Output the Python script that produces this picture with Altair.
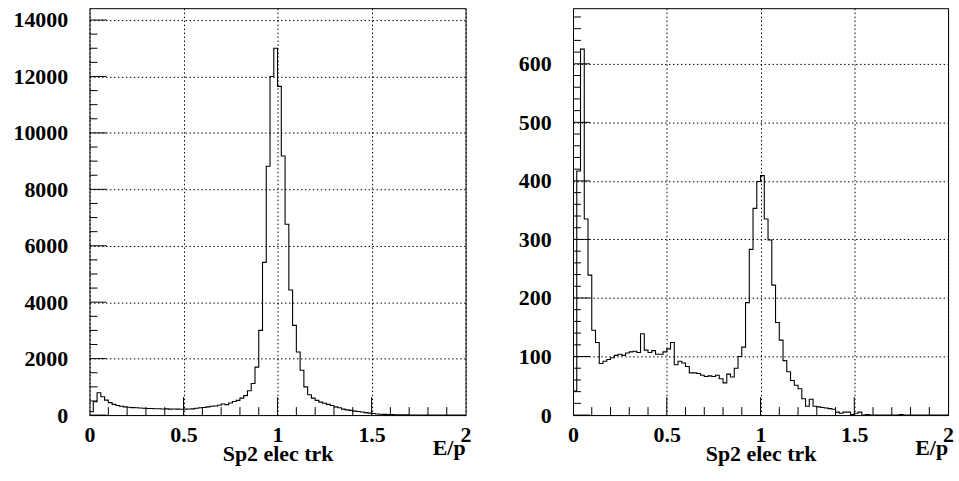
import altair as alt
import pandas as pd

BIN_WIDTH = 0.02
X_MIN, X_MAX = 0.0, 2.0

# Left panel: bin contents (100 bins of 0.02 in E/p)
left_counts = [
    120, 470, 790, 650, 530, 440, 380, 340, 310, 290,
    275, 265, 260, 250, 240, 235, 230, 225, 225, 215,
    220, 210, 215, 210, 205, 210, 215, 220, 240, 260,
    270, 290, 310, 320, 350, 390, 370, 430, 480, 520,
    600, 690, 860, 1120, 1700, 3000, 5410, 8820, 12000, 13000,
    11650, 9180, 6760, 4435, 3180, 2235, 1590, 1000, 720, 600,
    520, 460, 420, 380, 340, 290, 260, 210, 185, 165,
    140, 125, 110, 85, 70, 55, 40, 30, 24, 18,
    14, 11, 9, 7, 6, 5, 4, 3, 3, 2,
    2, 1, 1, 1, 1, 0, 1, 0, 0, 0,
]

# Right panel: bin contents (100 bins of 0.02 in E/p)
right_counts = [
    41, 417, 625, 335, 239, 145, 124, 88, 92, 95,
    98, 102, 104, 102, 106, 108, 109, 107, 139, 111,
    107, 110, 104, 104, 108, 113, 124, 86, 92, 89,
    83, 72, 72, 71, 68, 66, 67, 66, 68, 62,
    55, 70, 65, 80, 100, 116, 192, 283, 353, 399,
    409, 335, 299, 222, 158, 128, 93, 74, 59, 51,
    45, 28, 15, 27, 15, 14, 13, 12, 11, 10,
    5, 3, 5, 5, 1, 3, 5, 0, 1, 0,
    0, 0, 0, 0, 0, 0, 0, 1, 0, 0,
    0, 0, 0, 0, 0, 0, 0, 0, 0, 0,
]

x_major_labels = [0, 0.5, 1, 1.5, 2]
x_major_ticks = [0.5, 1.0, 1.5]
x_minor_ticks = [0.1, 0.2, 0.3, 0.4, 0.6, 0.7, 0.8, 0.9,
                 1.1, 1.2, 1.3, 1.4, 1.6, 1.7, 1.8, 1.9]

left_y_major = [0, 2000, 4000, 6000, 8000, 10000, 12000, 14000]
left_y_minor = [500, 1000, 1500, 2500, 3000, 3500, 4500, 5000, 5500,
                6500, 7000, 7500, 8500, 9000, 9500, 10500, 11000, 11500,
                12500, 13000, 13500]
left_ymax = 14420

right_y_major = [0, 100, 200, 300, 400, 500, 600]
right_y_minor = [20, 40, 60, 80, 120, 140, 160, 180, 220, 240, 260, 280,
                 320, 340, 360, 380, 420, 440, 460, 480, 520, 540, 560, 580,
                 620, 640, 660, 680]
right_ymax = 695

x_title = "Sp2 elec trk"
x_unit = "E/p"

FONT = "Liberation Serif"
FS = 22
H = 409

font_kw = dict(labelFont=FONT, labelFontSize=FS, labelFontWeight="bold",
               labelColor="black", titleFont=FONT, titleFontSize=FS,
               titleFontWeight="bold", titleColor="black")


def panel(counts, ymax, ymaj, ymin, W):
    n = len(counts)
    edges = [X_MIN + i * BIN_WIDTH for i in range(n)] + [X_MAX]
    df = pd.DataFrame({"x": edges, "v": list(counts) + [counts[-1]]})
    xs = alt.Scale(domain=[X_MIN, X_MAX], nice=False, zero=False)
    ys = alt.Scale(domain=[0, ymax], nice=False, zero=True)

    x_axis = alt.Axis(
        values=x_major_labels, format="~g", labelFlush=False,
        labelOverlap=False, grid=True, gridDash=[1.5, 2.5],
        gridColor="black", gridOpacity=1, gridWidth=1,
        ticks=False, domain=False, labelPadding=27,
        labelBaseline="alphabetic", title=x_title, titleY=46,
        titleBaseline="alphabetic", **font_kw)
    y_axis = alt.Axis(
        values=ymaj, format="d", grid=True, gridDash=[1.5, 2.5],
        gridColor="black", gridOpacity=1, gridWidth=1,
        ticks=False, domain=False, labelPadding=22,
        labelOverlap=False, title=None, **font_kw)

    hist = alt.Chart(df).mark_line(
        interpolate="step-after", color="black", strokeWidth=1.1
    ).encode(
        x=alt.X("x:Q", scale=xs, axis=x_axis),
        y=alt.Y("v:Q", scale=ys, axis=y_axis),
    )

    ymaj_df = pd.DataFrame({"v": ymaj})
    ymin_df = pd.DataFrame({"v": ymin})
    xmaj_df = pd.DataFrame({"x": x_major_ticks})
    xmin_df = pd.DataFrame({"x": x_minor_ticks})

    ymaj_ticks = alt.Chart(ymaj_df).mark_rule(color="black", strokeWidth=1).encode(
        y=alt.Y("v:Q", scale=ys, axis=y_axis), x=alt.value(0), x2=alt.value(17))
    ymin_ticks = alt.Chart(ymin_df).mark_rule(color="black", strokeWidth=1).encode(
        y=alt.Y("v:Q", scale=ys, axis=y_axis), x=alt.value(0), x2=alt.value(8))
    xmaj_ticks = alt.Chart(xmaj_df).mark_rule(color="black", strokeWidth=1).encode(
        x=alt.X("x:Q", scale=xs, axis=x_axis), y=alt.value(H), y2=alt.value(H - 18))
    xmin_ticks = alt.Chart(xmin_df).mark_rule(color="black", strokeWidth=1).encode(
        x=alt.X("x:Q", scale=xs, axis=x_axis), y=alt.value(H), y2=alt.value(H - 8))

    unit = alt.Chart(pd.DataFrame({"lab": [x_unit]})).mark_text(
        align="right", baseline="alphabetic", font=FONT, fontSize=FS,
        fontWeight="bold", color="black"
    ).encode(text="lab:N", x=alt.value(W), y=alt.value(H + 40))

    return alt.layer(hist, ymaj_ticks, ymin_ticks, xmaj_ticks, xmin_ticks, unit).properties(
        width=W, height=H)


left = panel(left_counts, left_ymax, left_y_major, left_y_minor, 378)
right = panel(right_counts, right_ymax, right_y_major, right_y_minor, 377)

chart = alt.hconcat(left, right, spacing=46).properties(
    padding={"left": 12, "top": 6, "right": 5, "bottom": 5},
    background="white",
).configure_view(
    stroke="black", strokeWidth=1
).configure_axis(**font_kw)

chart.save("out.html", embed_options={"renderer": "svg", "actions": False})
